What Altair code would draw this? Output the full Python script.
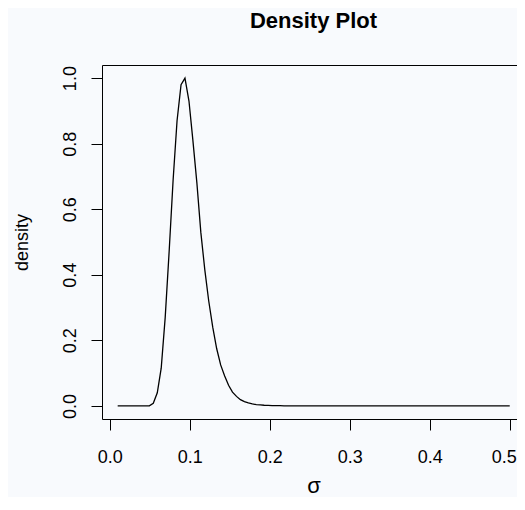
import altair as alt
import pandas as pd

# values
sigma = [0.0100, 0.0496, 0.0545, 0.0595, 0.0644, 0.0694, 0.0743, 0.0793, 0.0842,
         0.0892, 0.0941, 0.0991, 0.1040, 0.1090, 0.1139, 0.1189, 0.1238, 0.1288,
         0.1337, 0.1387, 0.1436, 0.1486, 0.1535, 0.1585, 0.1634, 0.1684, 0.1733,
         0.1783, 0.1832, 0.1882, 0.1931, 0.1981, 0.2030, 0.2080, 0.2129, 0.2179,
         0.2228, 0.5000]
density = [0.0, 0.0, 0.008, 0.040, 0.115, 0.270, 0.470, 0.690, 0.870,
           0.980, 1.000, 0.930, 0.810, 0.680, 0.530, 0.415, 0.320, 0.240,
           0.175, 0.125, 0.092, 0.063, 0.042, 0.029, 0.019, 0.013, 0.009,
           0.006, 0.004, 0.003, 0.002, 0.0015, 0.001, 0.0007, 0.0005, 0.0003,
           0.0002, 0.0]
x_ticks = [0.0, 0.1, 0.2, 0.3, 0.4, 0.5]
y_ticks = [0.0, 0.2, 0.4, 0.6, 0.8, 1.0]
title_text = ["Density Plot"]

df = pd.DataFrame({"sigma": sigma, "density": density})
tdf = pd.DataFrame({"label": title_text})

BG = "#F8FAFD"
FONT = "Liberation Sans"
W, H = 415, 354
PT, PL, PB = 57, 94, 78

x_scale = alt.Scale(domain=[-0.0096, 0.5091], nice=False, zero=False)
y_scale = alt.Scale(domain=[-0.04, 1.04], nice=False, zero=False)

line = alt.Chart(df).mark_line(color="black", strokeWidth=1.3).encode(
    x=alt.X("sigma:Q", scale=x_scale,
            axis=alt.Axis(values=x_ticks, format=".1f", title="σ",
                          labelPadding=32, labelBaseline="alphabetic", labelAlign="center",
                          labelOffset=alt.condition("datum.value >= 0.45",
                                                    alt.value(-6), alt.value(0)),
                          titleX=W / 2 + 4, titleY=73, titleAlign="center",
                          titleBaseline="alphabetic", titleFontSize=22)),
    y=alt.Y("density:Q", scale=y_scale,
            axis=alt.Axis(values=y_ticks, format=".1f", title="density",
                          labelAngle=270, labelAlign="center", labelBaseline="alphabetic",
                          labelPadding=16,
                          titleX=-75, titleY=H / 2, titleAngle=270, titleAlign="center",
                          titleBaseline="alphabetic", titleFontSize=18)),
)

title = alt.Chart(tdf).mark_text(
    font=FONT, fontSize=22, fontWeight="bold", color="black",
    align="center", baseline="alphabetic",
).encode(
    text="label:N",
    x=alt.value(211.5),
    y=alt.value(-37),
)

chart = alt.layer(line, title).properties(
    width=W, height=H,
    autosize="none",
    padding={"left": PL, "top": PT, "right": 0, "bottom": PB},
    background=BG,
).configure_view(
    stroke="black", strokeWidth=1, fill=BG
).configure_axis(
    domain=False, grid=False, ticks=True, tickSize=11, tickColor="black", tickWidth=1,
    labelFont=FONT, labelFontSize=18, labelColor="black", labelFlush=False,
    labelOverlap=False, labelBound=False,
    titleFont=FONT, titleFontWeight="normal", titleColor="black",
)

chart.save("out.html", embed_options={"renderer": "svg", "actions": False})
